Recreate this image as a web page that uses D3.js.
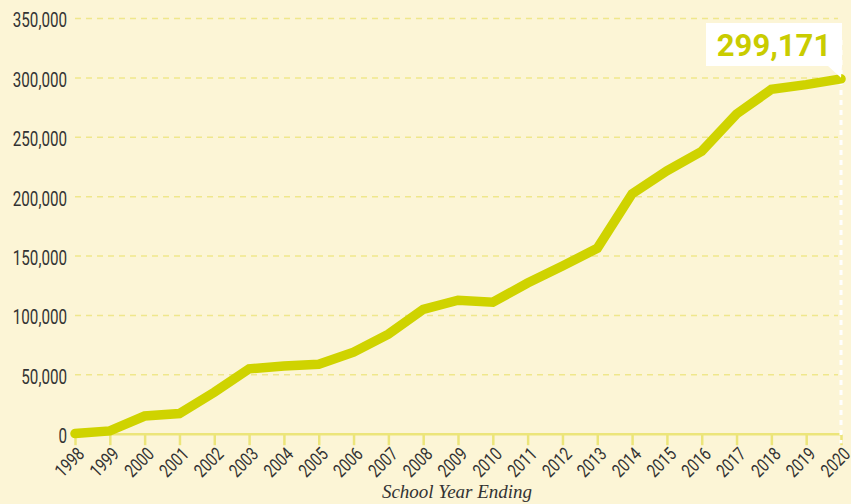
<!DOCTYPE html>
<html>
<head>
<meta charset="utf-8">
<script src="https://cdn.jsdelivr.net/npm/d3@7"></script>
<style>
  html, body { margin: 0; padding: 0; background: #fcf5d6; }
  svg { display: block; }
  .tick-label { font-family: "Roboto", "Liberation Sans", sans-serif; fill: #333333; }
</style>
</head>
<body>
<svg id="chart" width="851" height="504"></svg>
<script>
// Enrollment by school year ending
const years = [1998, 1999, 2000, 2001, 2002, 2003, 2004, 2005, 2006, 2007, 2008,
               2009, 2010, 2011, 2012, 2013, 2014, 2015, 2016, 2017, 2018, 2019, 2020];
const enrollment = [500, 2800, 15300, 17400, 35300, 55000, 57500, 58900, 69100, 84200, 105000,
                    112800, 111100, 127300, 141600, 156500, 202400, 221700, 238200, 269600, 290300, 294300, 299171];
const yTicks = [0, 50000, 100000, 150000, 200000, 250000, 300000, 350000];
const xTitle = "School Year Ending";

const svg = d3.select("#chart");
const plot = { left: 75, right: 841, top: 18.5, bottom: 434.2 };

const x = d3.scalePoint().domain(years).range([plot.left, plot.right]);
const y = d3.scaleLinear().domain([0, 350000]).range([plot.bottom, plot.top]);

const fmt = d3.format(",");
// Horizontal squeeze that gives the tick labels a condensed look
const squeeze = 0.78;

// Dashed horizontal gridlines
svg.append("g")
  .selectAll("line")
  .data(yTicks.filter(d => d > 0))
  .join("line")
  .attr("x1", plot.left).attr("x2", plot.right - 3)
  .attr("y1", d => y(d)).attr("y2", d => y(d))
  .attr("stroke", "#efe78c")
  .attr("stroke-width", 1.5)
  .attr("stroke-dasharray", "6,5");

// Y axis labels
const yAxis = d3.axisLeft(y).tickValues(yTicks).tickFormat(fmt).tickSize(0).tickPadding(8);
const gy = svg.append("g").attr("transform", `translate(${plot.left},0)`).call(yAxis);
gy.select(".domain").remove();
gy.selectAll("text")
  .attr("class", "tick-label")
  .attr("font-size", 19.5)
  .attr("x", 0)
  .attr("dy", "0.43em")
  .attr("transform", `translate(-8,0) scale(${squeeze},1)`);

// X axis with ticks
const xAxis = d3.axisBottom(x).tickSize(11).tickPadding(0);
const gx = svg.append("g").attr("transform", `translate(0,${plot.bottom})`).call(xAxis);
gx.select(".domain")
  .attr("d", `M${plot.left},0H${plot.right}`)
  .attr("stroke", "#ece57a")
  .attr("stroke-width", 2.5);
gx.selectAll(".tick line")
  .attr("stroke", "#ece57a")
  .attr("stroke-width", 2.5);
gx.selectAll(".tick text")
  .attr("class", "tick-label")
  .attr("font-size", 18.5)
  .attr("text-anchor", "end")
  .attr("y", 0).attr("dy", 0)
  .attr("transform", `translate(10,21) rotate(-45) scale(${squeeze},1)`);

// White dotted marker at the final year
svg.append("line")
  .attr("x1", x(2020)).attr("x2", x(2020))
  .attr("y1", 40).attr("y2", plot.bottom + 9)
  .attr("stroke", "#ffffff")
  .attr("stroke-width", 3)
  .attr("stroke-dasharray", "5,5");

// Enrollment line
const line = d3.line().x((d, i) => x(years[i])).y(d => y(d));
svg.append("path")
  .datum(enrollment)
  .attr("d", line)
  .attr("fill", "none")
  .attr("stroke", "#cfd300")
  .attr("stroke-width", 9.5)
  .attr("stroke-linejoin", "miter")
  .attr("stroke-linecap", "round");

// Callout for the latest value
const last = enrollment[enrollment.length - 1];
const px = x(2020), py = y(last);
const box = { x0: 706, x1: 842, y0: 23, y1: 66 };
svg.append("path")
  .attr("d", `M${box.x0},${box.y0}H${box.x1}V${box.y1}L${px},${py - 1}L${box.x1 - 14},${box.y1}H${box.x0}Z`)
  .attr("fill", "#ffffff");
svg.append("text")
  .attr("x", (box.x0 + box.x1) / 2)
  .attr("y", 56)
  .attr("text-anchor", "middle")
  .attr("font-family", "Roboto, 'Liberation Sans', sans-serif")
  .attr("font-weight", "bold")
  .attr("font-size", 31)
  .attr("fill", "#c9cc00")
  .text(fmt(last));

// X axis title
svg.append("text")
  .attr("x", 457)
  .attr("y", 498)
  .attr("text-anchor", "middle")
  .attr("font-family", "'Liberation Serif', 'DejaVu Serif', serif")
  .attr("font-style", "italic")
  .attr("font-size", 19)
  .attr("fill", "#333333")
  .text(xTitle);
</script>
</body>
</html>
